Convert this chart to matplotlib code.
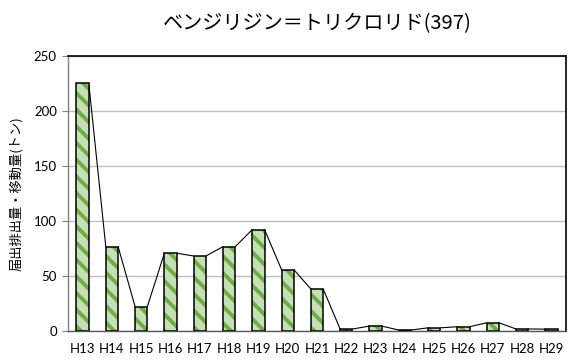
import matplotlib
matplotlib.use("Agg")
import matplotlib.pyplot as plt
import numpy as np

plt.rcParams['font.family'] = ['Noto Sans CJK JP', 'DejaVu Sans']
plt.rcParams['hatch.linewidth'] = 2.8

categories = ["H13", "H14", "H15", "H16", "H17", "H18", "H19", "H20", "H21",
              "H22", "H23", "H24", "H25", "H26", "H27", "H28", "H29"]
values = [225, 76.5, 22, 70.5, 68, 76.5, 92, 55.5, 38,
          1.5, 4.2, 0.6, 2.6, 3.6, 7.2, 1.6, 1.4]
y_ticks = [0, 50, 100, 150, 200, 250]
title = "ベンジリジン＝トリクロリド(397)"
ylabel = "届出排出量・移動量(トン)"

fig = plt.figure(figsize=(5.68, 3.60), dpi=100)
ax = fig.add_axes([68 / 568, (360 - 330.7) / 360, (566 - 68) / 568, (330.7 - 56) / 360])

x = np.arange(len(categories))
w = 0.42

# hatched fill
ax.bar(x, values, width=w, color="#c5e0b4", edgecolor="#70ad47",
       hatch="\\\\", linewidth=0, zorder=3)
# black outline
ax.bar(x, values, width=w, facecolor="none", edgecolor="black",
       linewidth=1.1, zorder=4)

# series lines joining neighbouring bar tops
for i in range(len(values) - 1):
    ax.plot([x[i] + w / 2, x[i + 1] - w / 2], [values[i], values[i + 1]],
            color="black", linewidth=0.8, zorder=2)

ax.set_xlim(-0.5, len(categories) - 0.5)
ax.set_ylim(0, 250)
ax.set_yticks(y_ticks)
ax.set_xticks(x)
ax.set_xticklabels(categories, family=["Lato", "DejaVu Sans"], fontsize=9.5)
for lab in ax.get_yticklabels():
    lab.set_family(["Lato", "DejaVu Sans"])
    lab.set_fontsize(9.5)
ax.tick_params(axis="x", length=0, pad=9)
ax.tick_params(axis="y", length=4, width=0.8, color="#808080", pad=4)

ax.grid(axis="y", color="#bfbfbf", linewidth=1.0, zorder=0)
ax.set_axisbelow(True)
for s in ["top", "right"]:
    ax.spines[s].set_color("black")
    ax.spines[s].set_linewidth(1.2)
ax.spines["left"].set_color("#808080")
ax.spines["left"].set_linewidth(1.0)
ax.spines["bottom"].set_color("#595959")
ax.spines["bottom"].set_linewidth(1.0)

ax.set_ylabel(ylabel, fontsize=9.5, labelpad=8)
ax.set_title(title, fontsize=14.5, pad=19, x=0.5)

fig.savefig("out.png", dpi=100)
